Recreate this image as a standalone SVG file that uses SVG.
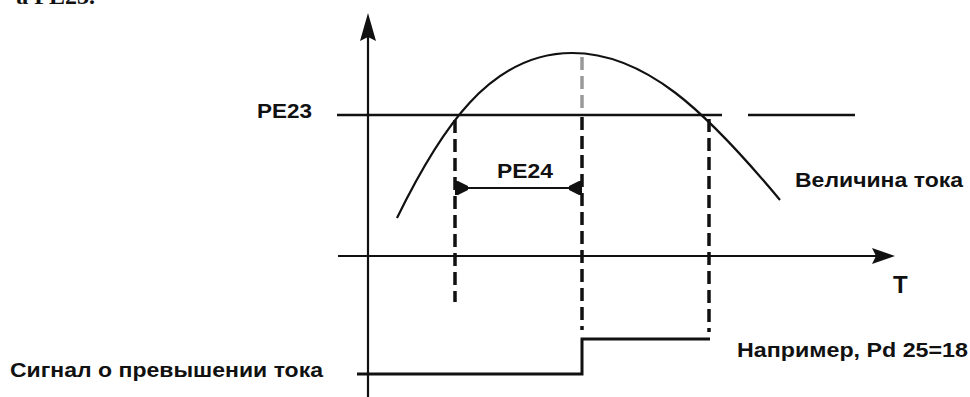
<svg xmlns="http://www.w3.org/2000/svg" width="970" height="397" viewBox="0 0 970 397">
<style>
.lbl{font-family:"Liberation Sans",Arial,sans-serif;font-weight:bold;font-size:20px;fill:#111}
.ax{stroke:#111;stroke-width:2.2;fill:none}
.dash{stroke:#111;stroke-width:3.5;stroke-dasharray:13 6;fill:none}
.head{fill:#111;stroke:none}
</style>
<rect width="970" height="397" fill="#fff"/>
<text x="95" y="4" text-anchor="end" style="font-family:'Liberation Serif',serif;font-weight:bold;font-size:24px;fill:#111">а PE23.</text>
<g id="connectors">
  <line class="ax" x1="368" y1="36" x2="368" y2="397"/>
  <polygon class="head" points="368,13 376,41 368,37 360,41"/>
  <line class="ax" x1="338" y1="256" x2="878" y2="256"/>
  <polygon class="head" points="895,256 872,248 876,256 872,264"/>
  <line x1="337" y1="115" x2="722" y2="115" stroke="#111" stroke-width="2.5"/>
  <line x1="748" y1="115" x2="855" y2="115" stroke="#111" stroke-width="2.5"/>
  <path class="ax" d="M397,218 C440,130 490,53 572,53 C645,53 705,110 780,200"/>
  <line class="dash" x1="455" y1="120" x2="455" y2="302"/>
  <line class="dash" x1="582" y1="57" x2="582" y2="113" style="stroke:#999"/>
  <line class="dash" x1="582" y1="117" x2="582" y2="330"/>
  <line class="dash" x1="709" y1="119" x2="709" y2="332"/>
  <line x1="462" y1="188" x2="575" y2="188" stroke="#111" stroke-width="2"/>
  <polygon class="head" points="455,181 458,181 468,186 468,190 458,195 455,195"/>
  <polygon class="head" points="582,181 579,181 569,186 569,190 579,195 582,195"/>
  <path d="M357,374 H582 V339 H710" fill="none" stroke="#111" stroke-width="3"/>
</g>
<g id="pe23"><text class="lbl" x="257" y="118" textLength="55" lengthAdjust="spacingAndGlyphs">PE23</text></g>
<g id="pe24"><text class="lbl" x="497" y="178" textLength="56" lengthAdjust="spacingAndGlyphs">PE24</text></g>
<g id="current"><text class="lbl" x="795" y="187" textLength="168" lengthAdjust="spacingAndGlyphs">Величина тока</text></g>
<g id="t-label"><text class="lbl" x="893" y="293" style="font-size:24px">T</text></g>
<g id="signal"><text class="lbl" x="10" y="377" textLength="313" lengthAdjust="spacingAndGlyphs">Сигнал о превышении тока</text></g>
<g id="example"><text class="lbl" x="737" y="357" textLength="231" lengthAdjust="spacingAndGlyphs">Например, Pd 25=18</text></g>
</svg>
